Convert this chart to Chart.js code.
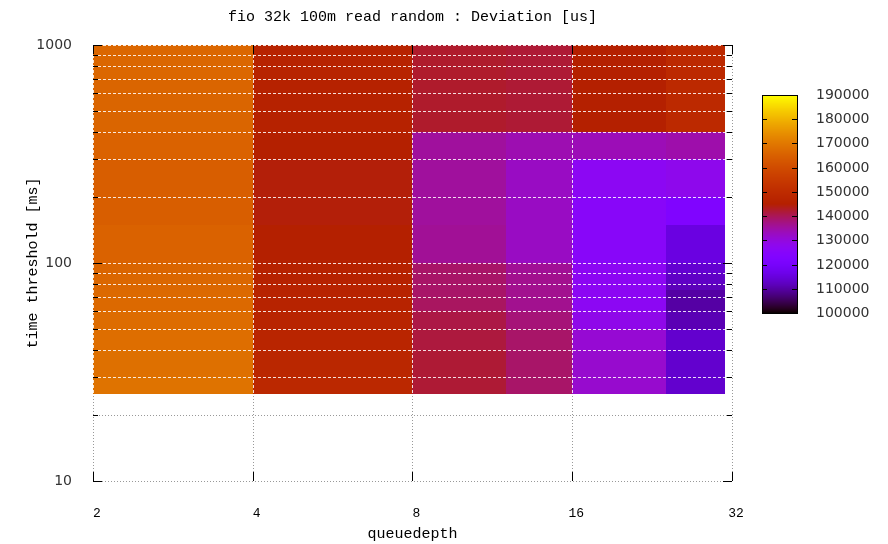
<!DOCTYPE html>
<html>
<head>
<meta charset="utf-8">
<title>fio 32k 100m read random : Deviation [us]</title>
<script src="https://cdn.jsdelivr.net/npm/chart.js@4.4.1/dist/chart.umd.min.js"></script>
<style>
  html, body { margin: 0; padding: 0; background: #fff; }
</style>
</head>
<body>
<canvas id="chart" width="888" height="544"></canvas>
<script>
// column edges (queuedepth, log2) and row edges (time threshold [ms], log10)
const qdEdges = [2, 4, 8, 12, 16, 24, 31];
const thresholdEdges = [25, 30, 40, 50, 60, 70, 75, 80, 90, 100, 150, 200, 300, 400, 500, 600, 700, 800, 900, 1000];

// deviation [us], one value per row (bottom to top), one array per column
const devQd2  = [169000, 168500, 168000, 167500, 167000, 167000, 166500, 166500, 166000, 165500, 164500, 164500, 165500, 166000, 166000, 166000, 166500, 166500, 166500];
const devQd4  = [148500, 148000, 147500, 147000, 146500, 146500, 146500, 146000, 146000, 145000, 144500, 144500, 145000, 146000, 146000, 146000, 146500, 146500, 146500];
const devQd8  = [142000, 142000, 141500, 141000, 139500, 139000, 139000, 139000, 139000, 136000, 135500, 135500, 135500, 142500, 142500, 142500, 142500, 142500, 142500];
const devQd12 = [139000, 139000, 139000, 138000, 136500, 136500, 136500, 136500, 136000, 132500, 132500, 132500, 134000, 142000, 142000, 142000, 142000, 142000, 142000];
const devQd16 = [131500, 131500, 131000, 128500, 127000, 127000, 127000, 127000, 127000, 125500, 125500, 127000, 133500, 145000, 145000, 145000, 145000, 145000, 145000];
const devQd24 = [113500, 113500, 113500, 111200, 110000, 110000, 111700, 112700, 113800, 115500, 122700, 128000, 134500, 149000, 149000, 149000, 149000, 149000, 149000];
const columns = [devQd2, devQd4, devQd8, devQd12, devQd16, devQd24];

const xTicks = [2, 4, 8, 16, 32];
const yTicks = [10, 20, 30, 40, 50, 60, 70, 80, 90, 100, 200, 300, 400, 500, 600, 700, 800, 900, 1000];
const yMajor = [10, 100, 1000];
const cbTicks = [100000, 110000, 120000, 130000, 140000, 150000, 160000, 170000, 180000, 190000];
const cbMin = 100000, cbMax = 190000;

// gnuplot default palette (rgbformulae 7,5,15)
function palette(v) {
  let g = (v - cbMin) / (cbMax - cbMin);
  g = Math.min(1, Math.max(0, g));
  const r = Math.sqrt(g), gr = g * g * g, b = Math.max(0, Math.sin(2 * Math.PI * g));
  return 'rgb(' + Math.round(r * 255) + ',' + Math.round(gr * 255) + ',' + Math.round(b * 255) + ')';
}

let cells = [];
columns.forEach((col, i) => {
  col.forEach((v, j) => {
    cells.push({
      x: Math.sqrt(qdEdges[i] * qdEdges[i + 1]),
      y: Math.sqrt(thresholdEdges[j] * thresholdEdges[j + 1]),
      x0: qdEdges[i], x1: qdEdges[i + 1],
      y0: thresholdEdges[j], y1: thresholdEdges[j + 1],
      v: v
    });
  });
});

function gridLines(ctx, a, x, y) {
  xTicks.forEach(t => {
    const px = Math.round(x.getPixelForValue(t)) + 0.5;
    ctx.beginPath(); ctx.moveTo(px, a.top); ctx.lineTo(px, a.bottom); ctx.stroke();
  });
  yTicks.forEach(t => {
    const py = Math.round(y.getPixelForValue(t)) + 0.5;
    ctx.beginPath(); ctx.moveTo(a.left, py); ctx.lineTo(a.right, py); ctx.stroke();
  });
}

const heatPlugin = {
  id: 'heat',
  beforeDatasetsDraw(chart) {
    const { ctx, chartArea: a, scales: { x, y } } = chart;
    ctx.save();
    ctx.strokeStyle = '#999';
    ctx.lineWidth = 1;
    ctx.setLineDash([1, 2]);
    gridLines(ctx, a, x, y);
    ctx.restore();
  },
  afterDatasetsDraw(chart) {
    const { ctx, chartArea: a, scales: { x, y } } = chart;
    ctx.save();

    // cells
    chart.data.datasets[0].data.forEach(c => {
      const l = Math.round(x.getPixelForValue(c.x0));
      const r = Math.round(x.getPixelForValue(c.x1));
      const b = Math.round(y.getPixelForValue(c.y0));
      const t = Math.round(y.getPixelForValue(c.y1));
      ctx.fillStyle = palette(c.v);
      ctx.fillRect(l, t, r - l, b - t);
    });

    // grid in front of the cells, only where the cells are
    const gl = Math.round(x.getPixelForValue(qdEdges[0]));
    const gr = Math.round(x.getPixelForValue(qdEdges[qdEdges.length - 1]));
    const gb = Math.round(y.getPixelForValue(thresholdEdges[0]));
    const gt = Math.round(y.getPixelForValue(thresholdEdges[thresholdEdges.length - 1]));
    ctx.save();
    ctx.beginPath();
    ctx.rect(gl, gt, gr - gl + 1, gb - gt);
    ctx.clip();
    ctx.strokeStyle = 'rgba(255,255,255,0.85)';
    ctx.lineWidth = 1;
    ctx.setLineDash([3, 2]);
    gridLines(ctx, a, x, y);
    ctx.restore();

    // tick marks, inward, on all four sides
    ctx.strokeStyle = '#000';
    ctx.lineWidth = 1;
    xTicks.forEach(t => {
      const px = Math.round(x.getPixelForValue(t)) + 0.5;
      ctx.beginPath();
      ctx.moveTo(px, a.bottom); ctx.lineTo(px, a.bottom - 9);
      ctx.moveTo(px, a.top); ctx.lineTo(px, a.top + 9);
      ctx.stroke();
    });
    yTicks.forEach(t => {
      const py = Math.round(y.getPixelForValue(t)) + 0.5;
      const len = yMajor.includes(t) ? 9 : 5;
      ctx.beginPath();
      ctx.moveTo(a.left, py); ctx.lineTo(a.left + len, py);
      ctx.moveTo(a.right, py); ctx.lineTo(a.right - len, py);
      ctx.stroke();
    });

    // colour box
    const cbL = 762, cbR = 797, cbT = 95, cbB = 313;
    for (let py = cbT; py < cbB; py++) {
      ctx.fillStyle = palette(cbMax - (py + 0.5 - cbT) / (cbB - cbT) * (cbMax - cbMin));
      ctx.fillRect(cbL, py, cbR - cbL, 1);
    }
    ctx.strokeRect(cbL + 0.5, cbT + 0.5, cbR - cbL, cbB - cbT);
    ctx.fillStyle = '#333';
    ctx.font = '14px "DejaVu Sans"';
    ctx.textAlign = 'left';
    ctx.textBaseline = 'middle';
    cbTicks.forEach(t => {
      const py = Math.round(cbB - (t - cbMin) / (cbMax - cbMin) * (cbB - cbT)) + 0.5;
      if (t !== cbMin && t !== cbMax) {
        ctx.beginPath();
        ctx.moveTo(cbL, py); ctx.lineTo(cbL + 5, py);
        ctx.moveTo(cbR, py); ctx.lineTo(cbR - 5, py);
        ctx.stroke();
      }
      ctx.fillText(String(t), 816, py);
    });

    ctx.restore();
  }
};

new Chart(document.getElementById('chart'), {
  type: 'scatter',
  data: {
    datasets: [{ label: 'Deviation [us]', data: cells, pointRadius: 0, pointHoverRadius: 0 }]
  },
  options: {
    responsive: false,
    animation: false,
    events: [],
    layout: { padding: { left: 0, right: 156, top: 0, bottom: 0 } },
    plugins: {
      legend: { display: false },
      tooltip: { enabled: false },
      title: {
        display: true,
        fullSize: false,
        text: 'fio 32k 100m read random : Deviation [us]',
        color: '#000',
        font: { family: '"Liberation Mono"', size: 15, weight: 'normal' },
        padding: { top: 8, bottom: 19 }
      }
    },
    scales: {
      x: {
        type: 'logarithmic',
        min: 2,
        max: 32,
        grid: { display: false },
        border: { display: false },
        afterBuildTicks: s => { s.ticks = xTicks.map(v => ({ value: v })); },
        afterFit: s => { s.height = 63; },
        ticks: {
          autoSkip: false,
          maxRotation: 0,
          padding: 17,
          labelOffset: 4,
          color: '#000',
          font: { family: '"Liberation Mono"', size: 13 },
          callback: v => String(v)
        },
        title: {
          display: true,
          text: 'queuedepth',
          color: '#000',
          font: { family: '"Liberation Mono"', size: 15 },
          padding: { top: 0, bottom: 1 }
        }
      },
      y: {
        type: 'logarithmic',
        min: 10,
        max: 1000,
        grid: { display: false },
        border: { display: false },
        afterBuildTicks: s => { s.ticks = yTicks.map(v => ({ value: v })); },
        afterFit: s => { s.width = 93; },
        ticks: {
          autoSkip: false,
          padding: 13,
          color: '#333',
          font: { family: '"DejaVu Sans"', size: 14 },
          callback: v => yMajor.includes(v) ? String(v) : ''
        },
        title: {
          display: true,
          text: 'time threshold [ms]',
          color: '#000',
          font: { family: '"Liberation Mono"', size: 15 },
          padding: { top: 24, bottom: 0 }
        }
      }
    }
  },
  plugins: [heatPlugin]
});
</script>
</body>
</html>
